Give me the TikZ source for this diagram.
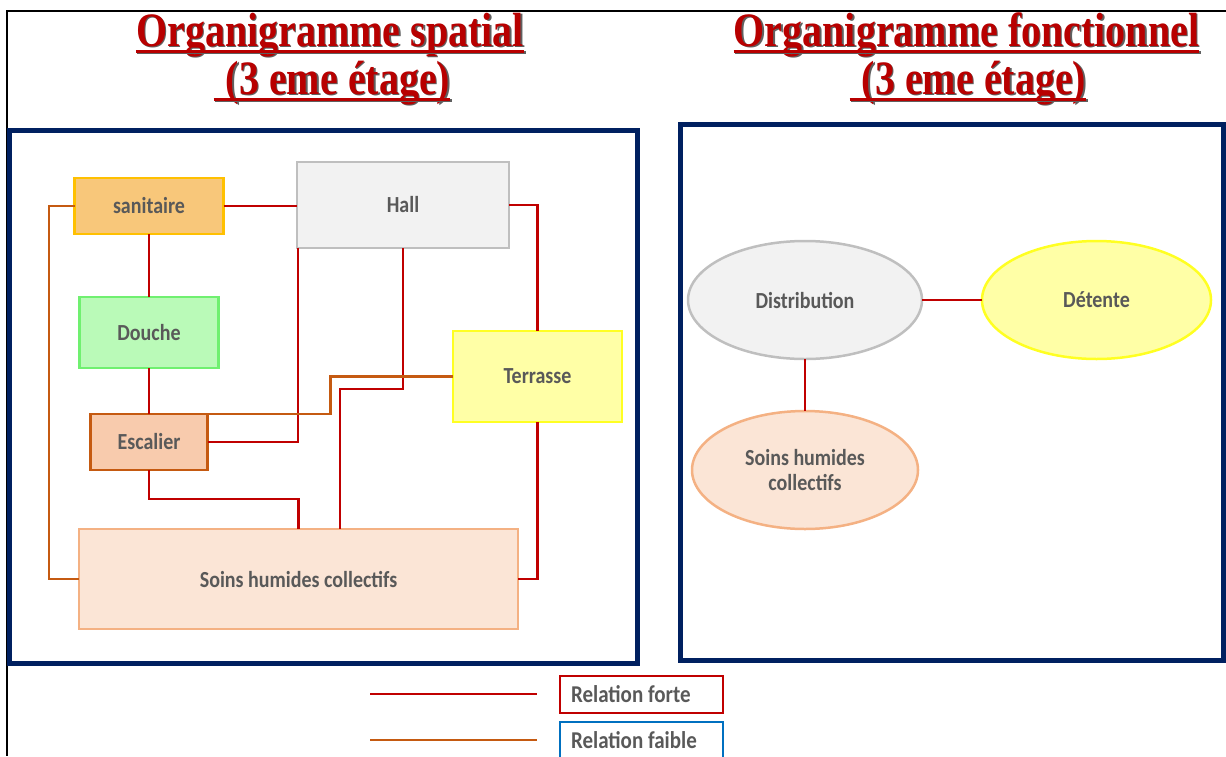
\documentclass[tikz,border=0pt]{standalone}
\usepackage{fontspec}
\setmainfont{Carlito}
\newfontfamily\titlefont{Liberation Serif}
\usetikzlibrary{shapes.geometric,calc}
\definecolor{forteC}{HTML}{C00000}
\definecolor{faibleC}{HTML}{C55A11}
\definecolor{navyC}{HTML}{002060}
\definecolor{txtC}{HTML}{595959}
\definecolor{titleC}{HTML}{B80000}
\definecolor{shadowC}{HTML}{606060}
\definecolor{sanFill}{HTML}{F8C77A}
\definecolor{sanDraw}{HTML}{FFC000}
\definecolor{hallFill}{HTML}{F2F2F2}
\definecolor{hallDraw}{HTML}{BFBFBF}
\definecolor{douFill}{HTML}{BAFAB8}
\definecolor{douDraw}{HTML}{70F070}
\definecolor{terFill}{HTML}{FFFFA6}
\definecolor{terDraw}{HTML}{FFFF22}
\definecolor{escFill}{HTML}{F8CBAD}
\definecolor{escDraw}{HTML}{C55A11}
\definecolor{soiFill}{HTML}{FBE5D6}
\definecolor{soiDraw}{HTML}{F4B183}
\definecolor{legBlue}{HTML}{0070C0}
\newcommand\mytx[1]{\scalebox{1}[1.15]{#1}}
\newcommand\myttl[1]{\scalebox{1}[1.2]{#1}}
\tikzset{
  room/.style={draw, line width=2.5pt, inner sep=0pt, outer sep=0pt, text=txtC,
    font=\fontsize{20}{21.7}\selectfont\bfseries},
  bubble/.style={ellipse, draw, line width=2.5pt, inner sep=0pt, outer sep=0pt, text=txtC,
    font=\fontsize{20}{21.7}\selectfont\bfseries},
  forte/.style={draw=forteC, line width=2.8pt},
  faible/.style={draw=faibleC, line width=2.8pt},
  panel/.style={draw=navyC, line width=5pt},
  ttl/.style={inner sep=0pt, anchor=base, text=titleC,
    font=\titlefont\fontsize{40}{44}\selectfont\bfseries},
  ttlsh/.style={ttl, text=shadowC},
  uline/.style={draw=titleC, line width=3pt},
  ulinesh/.style={draw=shadowC, line width=3pt},
  legbox/.style={draw, line width=2pt, inner xsep=11pt, inner ysep=0pt,
    minimum height=37pt, text=txtC, font=\fontsize{21}{24}\selectfont\bfseries},
}
\begin{document}
\begin{tikzpicture}[x=1pt, y=-1pt]
\useasboundingbox (0,0) rectangle (1226,756);
\clip (0,0) rectangle (1226,756);
% outer black frame (top and left)
\draw[line width=2pt, black] (1226,11) -- (7,11) -- (7,756);
% panels
\draw[panel] (9.5,130) rectangle (637.5,663);
\draw[panel] (680,124.5) rectangle (1223.5,660);
% titles
\node[ttlsh] (t1s) at (331.5,47.5) {\myttl{Organigramme spatial}};
\node[ttl] (t1) at (330,46) {\myttl{Organigramme spatial}};
\node[ttlsh] (t2s) at (333.5,95.5) {\myttl{\hspace*{12pt}(3 eme étage)}};
\node[ttl] (t2) at (332,94) {\myttl{\hspace*{12pt}(3 eme étage)}};
\node[ttlsh] (t3s) at (968,47.5) {\myttl{Organigramme fonctionnel}};
\node[ttl] (t3) at (966.5,46) {\myttl{Organigramme fonctionnel}};
\node[ttlsh] (t4s) at (969.5,95.5) {\myttl{\hspace*{12pt}(3 eme étage)}};
\node[ttl] (t4) at (968,94) {\myttl{\hspace*{12pt}(3 eme étage)}};
\foreach \t in {t1,t2,t3,t4}{
  \draw[ulinesh] ([xshift=1.5pt,yshift=-6.5pt]\t.base west) -- ([xshift=1.5pt,yshift=-6.5pt]\t.base east);
  \draw[uline] ([yshift=-5pt]\t.base west) -- ([yshift=-5pt]\t.base east);
}
% rooms (spatial)
\node[room, fill=sanFill, draw=sanDraw, minimum width=149pt, minimum height=56pt] (san) at (149,206) {\mytx{sanitaire}};
\node[room, fill=hallFill, draw=hallDraw, minimum width=212pt, minimum height=86pt] (hall) at (403,205) {\mytx{Hall}};
\node[room, fill=douFill, draw=douDraw, minimum width=139pt, minimum height=71pt] (dou) at (149,332.5) {\mytx{Douche}};
\node[room, fill=terFill, draw=terDraw, minimum width=169pt, minimum height=91pt] (ter) at (537.5,376.5) {\mytx{Terrasse}};
\node[room, fill=escFill, draw=escDraw, minimum width=117pt, minimum height=56pt] (esc) at (149,442) {\mytx{Escalier}};
\node[room, fill=soiFill, draw=soiDraw, minimum width=439pt, minimum height=100pt] (soi) at (298.5,579) {\mytx{Soins humides collectifs}};
% strong relations
\draw[forte] (san.east) -- (san.east -| hall.west);
\draw[forte] (san.south) -- (dou.north);
\draw[forte] (dou.south) -- (esc.north);
\draw[forte] (esc.east) -| ([xshift=1pt]hall.south west);
\draw[forte] (hall.south) -- (403,389) -- (340,389) -- (340,389 |- soi.north);
\draw[forte] (hall.east) -| (ter.north);
\draw[forte] (ter.south) |- (soi.east);
\draw[forte] (esc.south) -- (149,499) -| (soi.north);
% weak relations
\draw[faible] (esc.north east) -- ($(esc.north east)+(123,0)$) |- (ter.west);
\draw[faible] (san.west) -- (49,206) |- (soi.west);
% functional
\node[bubble, fill=hallFill, draw=hallDraw, minimum width=234pt, minimum height=118pt] (dist) at (805,300) {\mytx{Distribution}};
\node[bubble, fill=terFill, draw=terDraw, minimum width=229pt, minimum height=118pt] (det) at (1096.5,300) {\mytx{Détente}};
\node[bubble, fill=soiFill, draw=soiDraw, minimum width=226pt, minimum height=118pt] (soi2) at (805,470) {\raisebox{0pt}[\height][\dimexpr\depth-6pt\relax]{\mytx{\begin{tabular}{@{}c@{}}Soins humides\\collectifs\end{tabular}}}};
\draw[forte] (dist.east) -- (det.west);
\draw[forte] (dist.south) -- (soi2.north);
% legend
\coordinate (lf1) at (370,694);
\coordinate (lf2) at (537,694);
\coordinate (lw1) at (370,740);
\coordinate (lw2) at (537,740);
\draw[forte] (lf1) -- (lf2);
\draw[faible] (lw1) -- (lw2);
\node[legbox, draw=forteC] (lg1) at (641.5,694.5) {\mytx{\makebox[141pt][l]{Relation forte}}};
\node[legbox, draw=legBlue] (lg2) at (641.5,740) {\mytx{\makebox[141pt][l]{Relation faible}}};
\end{tikzpicture}
\end{document}
